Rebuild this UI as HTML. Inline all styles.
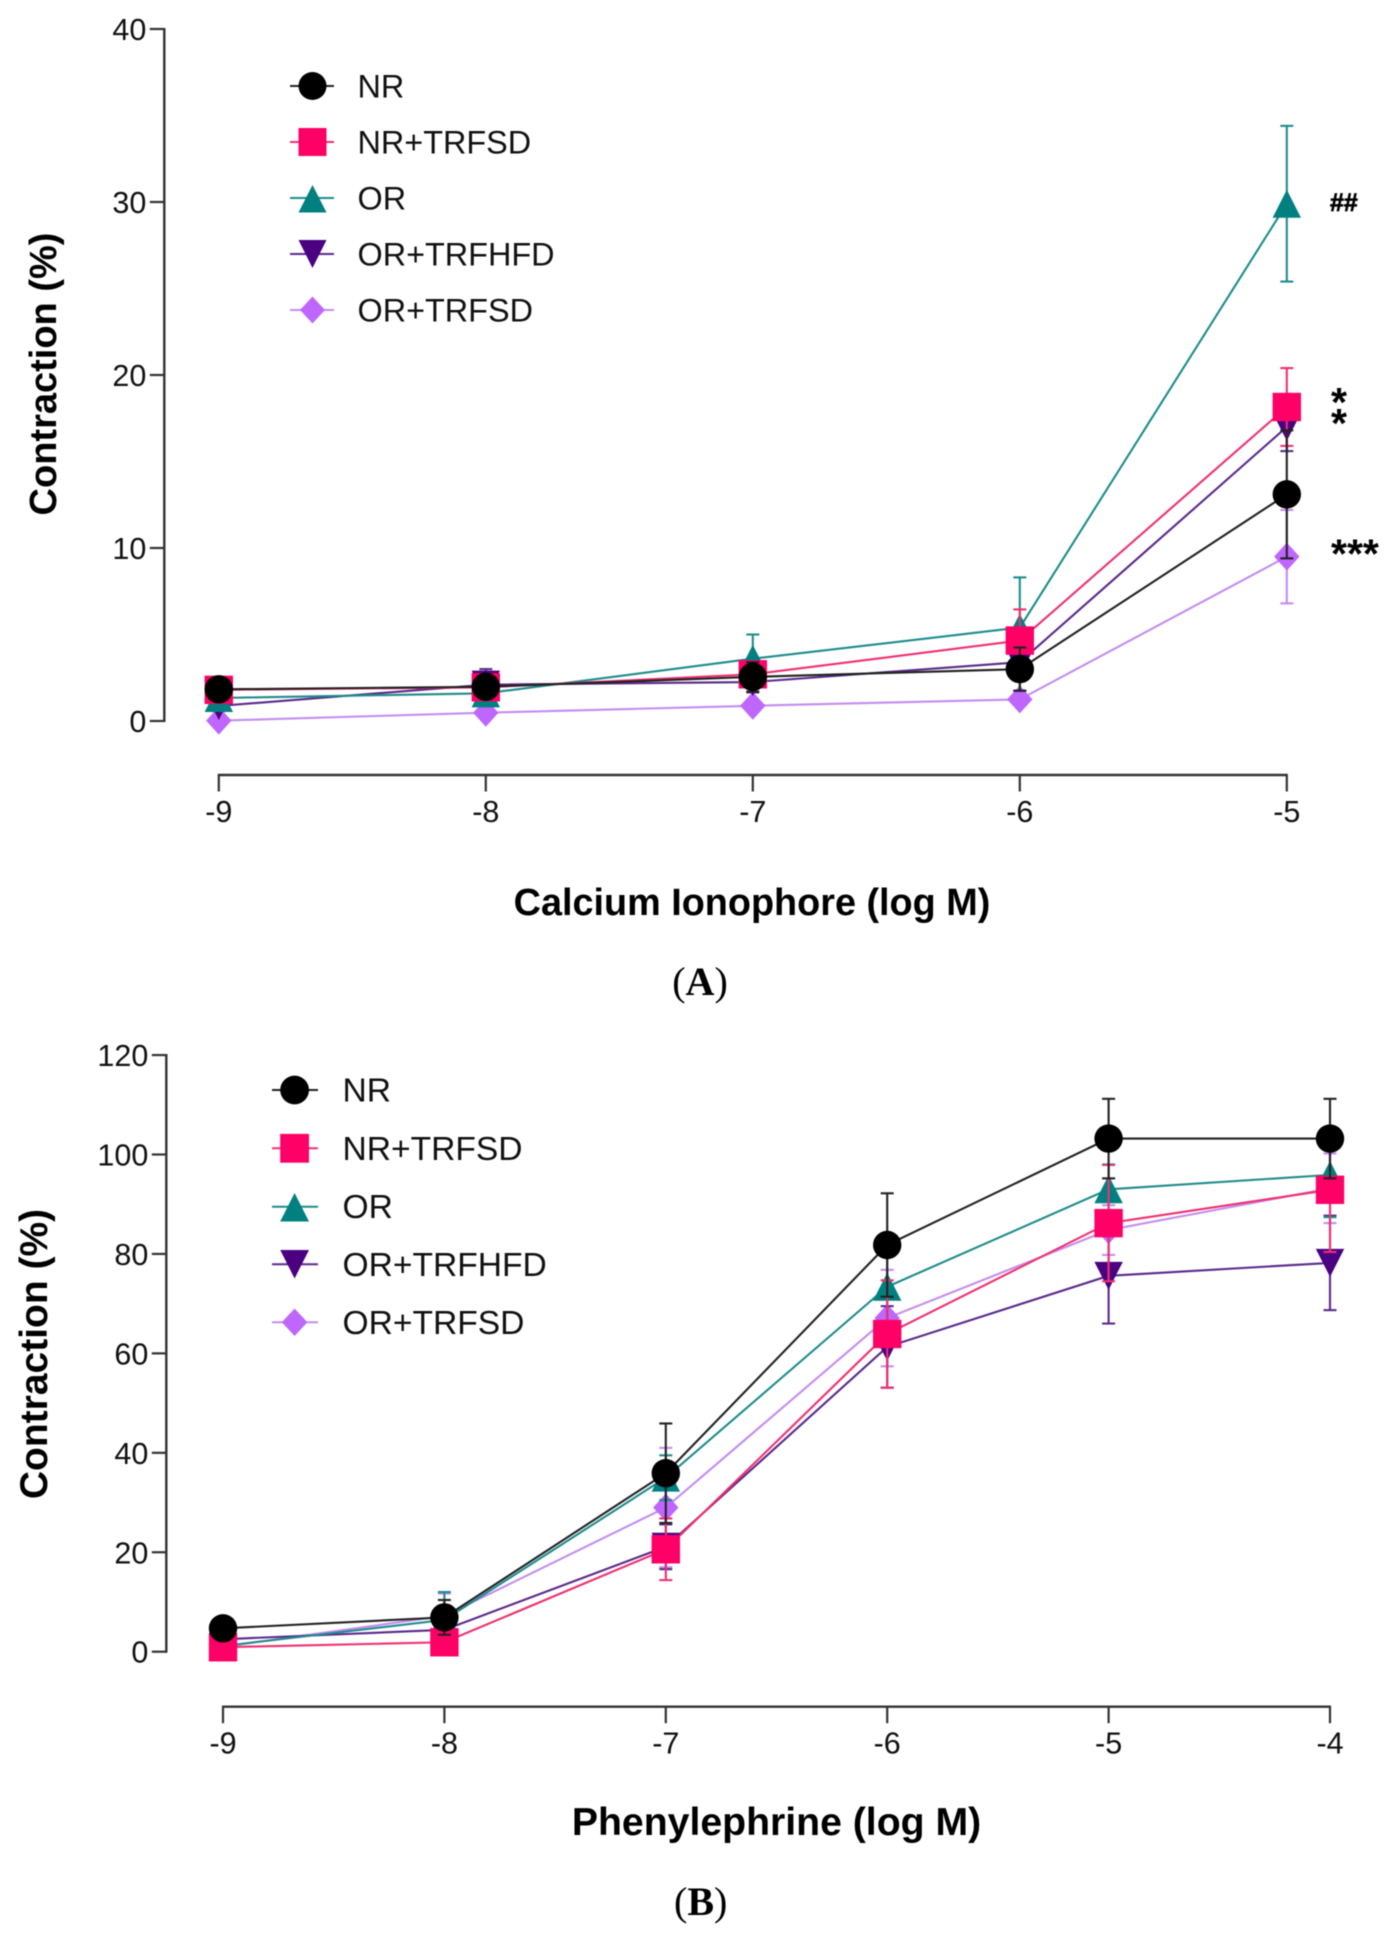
<!DOCTYPE html>
<html lang="en">
<head>
<meta charset="utf-8">
<title>Contraction dose-response curves</title>
<style>
  html, body { margin: 0; padding: 0; background: #fff; }
  svg { display: block; filter: blur(0.45px); }
  text { font-family: "Liberation Sans", sans-serif; fill: #111; }
  .tick { font-size: 30.5px; }
  .legend-a { font-size: 32.4px; }
  .legend-b { font-size: 33.6px; }
  .axis-title { font-size: 38px; font-weight: bold; fill: #000; }
  .caption { font-family: "Liberation Serif", serif; font-size: 40px; fill: #000; }
  .stat { font-weight: bold; fill: #000; }
</style>
</head>
<body>
<svg id="figure" xmlns="http://www.w3.org/2000/svg" width="1390" height="1933" viewBox="0 0 1390 1933">
  <rect x="0" y="0" width="1390" height="1933" fill="#ffffff"/>

  <g id="panel-a">
    <text class="axis-title" text-anchor="middle" transform="translate(56 374) rotate(-90)">Contraction (%)</text>
    <text class="axis-title" text-anchor="middle" x="752" y="915" style="font-size:37.8px">Calcium Ionophore (log M)</text>

    <g>
      <g>
        <line x1="290" x2="334" y1="86" y2="86" stroke="#222" stroke-width="2"/>
        <circle cx="312.5" cy="86" r="14" fill="#000"/>
        <text class="legend-a" x="357.5" y="97.5">NR</text>
      </g>
      <g>
        <line x1="290" x2="334" y1="142" y2="142" stroke="#f0306f" stroke-width="2"/>
        <rect x="298.5" y="128" width="28" height="28" fill="#ff0066"/>
        <text class="legend-a" x="357.5" y="153.5">NR+TRFSD</text>
      </g>
      <g>
        <line x1="290" x2="334" y1="198" y2="198" stroke="#1f8c8c" stroke-width="2"/>
        <polygon points="312.5,185 298.5,212.5 326.5,212.5" fill="#008080"/>
        <text class="legend-a" x="357.5" y="209.5">OR</text>
      </g>
      <g>
        <line x1="290" x2="334" y1="254" y2="254" stroke="#5b2a8c" stroke-width="2"/>
        <polygon points="312.5,268 298.5,240 326.5,240" fill="#4b0082"/>
        <text class="legend-a" x="357.5" y="265.5">OR+TRFHFD</text>
      </g>
      <g>
        <line x1="290" x2="334" y1="310" y2="310" stroke="#c48cf0" stroke-width="2"/>
        <polygon points="312.5,296.5 325,310 312.5,323.5 300,310" fill="#bf66ff"/>
        <text class="legend-a" x="357.5" y="321.5">OR+TRFSD</text>
      </g>
    </g>

    <text class="stat" x="1330" y="211" font-size="25" stroke="#000" stroke-width="0.7">##</text>
    <text class="stat" x="1331" y="416" font-size="41">*</text>
    <text class="stat" x="1331" y="437" font-size="41">*</text>
    <text class="stat" x="1331" y="567.5" font-size="41">***</text>

    <text class="caption" text-anchor="middle" x="700" y="995">(<tspan font-weight="bold">A</tspan>)</text>
  </g>

  <g id="panel-b">
    <text class="axis-title" text-anchor="middle" transform="translate(47 1354) rotate(-90)" style="font-size:39px">Contraction (%)</text>
    <text class="axis-title" text-anchor="middle" x="776.5" y="1835" style="font-size:39.2px">Phenylephrine (log M)</text>

    <g>
      <g>
        <line x1="272" x2="318" y1="1090" y2="1090" stroke="#222" stroke-width="2"/>
        <circle cx="294.6" cy="1090" r="14.4" fill="#000"/>
        <text class="legend-b" x="342.5" y="1101.5">NR</text>
      </g>
      <g>
        <line x1="272" x2="318" y1="1148.3" y2="1148.3" stroke="#f0306f" stroke-width="2"/>
        <rect x="280.2" y="1133.9" width="28.8" height="28.8" fill="#ff0066"/>
        <text class="legend-b" x="342.5" y="1159.8">NR+TRFSD</text>
      </g>
      <g>
        <line x1="272" x2="318" y1="1206.7" y2="1206.7" stroke="#1f8c8c" stroke-width="2"/>
        <polygon points="294.6,1193 280.2,1221.5 309,1221.5" fill="#008080"/>
        <text class="legend-b" x="342.5" y="1218.2">OR</text>
      </g>
      <g>
        <line x1="272" x2="318" y1="1264.3" y2="1264.3" stroke="#5b2a8c" stroke-width="2"/>
        <polygon points="294.6,1278.5 280.2,1250 309,1250" fill="#4b0082"/>
        <text class="legend-b" x="342.5" y="1275.8">OR+TRFHFD</text>
      </g>
      <g>
        <line x1="272" x2="318" y1="1322.3" y2="1322.3" stroke="#c48cf0" stroke-width="2"/>
        <polygon points="294.6,1308.5 307.4,1322.3 294.6,1336 281.8,1322.3" fill="#bf66ff"/>
        <text class="legend-b" x="342.5" y="1333.8">OR+TRFSD</text>
      </g>
    </g>

    <text class="caption" text-anchor="middle" x="700.7" y="1915">(<tspan font-weight="bold">B</tspan>)</text>
  </g>
</svg>

<script>
// Panel A: Calcium Ionophore
const dosesA = [-9, -8, -7, -6, -5];
const yTicksA = [0, 10, 20, 30, 40];
const nrA        = [1.83, 1.98, 2.55, 3.0, 13.1];
const nrErrA     = [0.6, 0.7, 0.85, 1.25, 3.7];
const nrTrfsdA   = [1.8, 1.95, 2.7, 4.65, 18.15];
const nrTrfsdErrA= [0.3, 0.4, 0.7, 1.8, 2.25];
const orA        = [1.33, 1.6, 3.6, 5.4, 29.9];
const orErrA     = [0.4, 0.5, 1.4, 2.9, 4.5];
const orHfdA     = [0.87, 2.1, 2.25, 3.4, 17.0];
const orHfdErrA  = [0.3, 0.9, 0.6, 1.65, 1.4];
const orSdA      = [0.02, 0.48, 0.88, 1.25, 9.5];
const orSdErrA   = [0.1, 0.1, 0.2, 0.3, 2.7];

// Panel B: Phenylephrine
const dosesB = [-9, -8, -7, -6, -5, -4];
const yTicksB = [0, 20, 40, 60, 80, 100, 120];
const nrB        = [4.7, 6.9, 35.9, 81.8, 103.2, 103.2];
const nrErrB     = [0.8, 3.5, 10, 10.4, 8, 8];
const nrTrfsdB   = [0.9, 1.9, 20.6, 63.9, 86.2, 92.9];
const nrTrfsdErrB= [0.4, 0.5, 6.2, 10.8, 11.7, 12.5];
const orB        = [1.15, 6.4, 35, 73.4, 93, 95.9];
const orErrB     = [0.4, 5.6, 4.5, 7, 5, 8.5];
const orHfdB     = [2.5, 4.4, 21.1, 61.3, 75.6, 78.2];
const orHfdErrB  = [0.5, 1, 4.5, 8.2, 9.6, 9.5];
const orSdB      = [1.0, 7.2, 29, 67.1, 84.8, 93.2];
const orSdErrB   = [0.4, 4.5, 12, 9.7, 5, 7];

const SVG_NS = 'http://www.w3.org/2000/svg';

function make(tag, attrs, parent) {
  const node = document.createElementNS(SVG_NS, tag);
  for (const key in attrs) node.setAttribute(key, attrs[key]);
  parent.appendChild(node);
  return node;
}

function drawMarker(shape, px, py, fill, parent) {
  if (shape === 'circle') {
    return make('circle', { cx: px, cy: py, r: 14.2, fill: fill }, parent);
  }
  if (shape === 'square') {
    return make('rect', { x: px - 14.2, y: py - 14.2, width: 28.4, height: 28.4, fill: fill }, parent);
  }
  let points;
  if (shape === 'up') {
    points = [[px, py - 14], [px - 14.2, py + 14], [px + 14.2, py + 14]];
  } else if (shape === 'down') {
    points = [[px, py + 14], [px - 14.2, py - 14], [px + 14.2, py - 14]];
  } else {
    points = [[px, py - 14], [px + 12.7, py], [px, py + 14], [px - 12.7, py]];
  }
  return make('polygon', { points: points.map(p => p.join(',')).join(' '), fill: fill }, parent);
}

function drawPanel(root, cfg) {
  const xScale = d => cfg.x0 + (d - cfg.doses[0]) * cfg.xStep;
  const yScale = v => cfg.y0 - v * cfg.yUnit;
  const axisInk = '#333';

  // y axis
  const yAxis = make('g', {}, root);
  
  
  const yTop = yScale(cfg.yTicks[cfg.yTicks.length - 1]);
  const yBottom = yScale(cfg.yTicks[0]);
  make('line', { x1: cfg.axisX, x2: cfg.axisX, y1: yTop - 1, y2: yBottom + 1, stroke: axisInk, 'stroke-width': 2.4 }, yAxis);
  cfg.yTicks.forEach(value => {
    const tickY = yScale(value);
    const mark = make('line', { x1: cfg.axisX - 14.5, x2: cfg.axisX, y1: tickY, y2: tickY, stroke: axisInk, 'stroke-width': 2.2 }, yAxis);
    
    
    const label = make('text', { class: 'tick', 'text-anchor': 'end', x: cfg.axisX - 18, y: tickY + 11 }, yAxis);
    
    
    label.textContent = String(value);
  });

  // x axis
  const xAxis = make('g', {}, root);
  
  
  const xFirst = xScale(cfg.doses[0]);
  const xLast = xScale(cfg.doses[cfg.doses.length - 1]);
  make('line', { x1: xFirst - 1, x2: xLast + 1, y1: cfg.axisY, y2: cfg.axisY, stroke: axisInk, 'stroke-width': 2.4 }, xAxis);
  cfg.doses.forEach(dose => {
    const tickX = xScale(dose);
    const mark = make('line', { x1: tickX, x2: tickX, y1: cfg.axisY, y2: cfg.axisY + 16.5, stroke: axisInk, 'stroke-width': 2.2 }, xAxis);
    
    
    const label = make('text', { class: 'tick', 'text-anchor': 'middle', x: tickX, y: cfg.axisY + 47 }, xAxis);
    
    
    label.textContent = String(dose);
  });

  // series, back to front
  cfg.series.forEach(s => {
    const group = make('g', {}, root);
    
    

    const linePoints = s.values.map((v, i) => xScale(cfg.doses[i]) + ',' + yScale(v)).join(' ');
    const path = make('polyline', { points: linePoints, fill: 'none', stroke: s.line, 'stroke-width': 2.1 }, group);
    
    

    s.values.forEach((v, i) => {
      const px = xScale(cfg.doses[i]);
      const top = yScale(v + s.errors[i]);
      const bottom = yScale(v - s.errors[i]);
      const bar = make('g', { stroke: s.line, 'stroke-width': 2.1 }, group);
      
      
      make('line', { x1: px, x2: px, y1: top, y2: bottom }, bar);
      make('line', { x1: px - 6.5, x2: px + 6.5, y1: top, y2: top }, bar);
      make('line', { x1: px - 6.5, x2: px + 6.5, y1: bottom, y2: bottom }, bar);
    });

    s.values.forEach((v, i) => {
      const marker = drawMarker(s.shape, xScale(cfg.doses[i]), yScale(v), s.fill, group);
      
      
    });
  });
}

drawPanel(document.getElementById('panel-a'), {
  id: 'panel-a', doses: dosesA, yTicks: yTicksA,
  x0: 218.8, xStep: 267, y0: 721, yUnit: 17.3, axisX: 164.3, axisY: 775,
  series: [
    { key: 'or-trfsd', values: orSdA, errors: orSdErrA, shape: 'diamond', fill: '#bf66ff', line: '#c48cf0' },
    { key: 'or-trfhfd', values: orHfdA, errors: orHfdErrA, shape: 'down', fill: '#4b0082', line: '#5b2a8c' },
    { key: 'or', values: orA, errors: orErrA, shape: 'up', fill: '#008080', line: '#1f8c8c' },
    { key: 'nr-trfsd', values: nrTrfsdA, errors: nrTrfsdErrA, shape: 'square', fill: '#ff0066', line: '#f0306f' },
    { key: 'nr', values: nrA, errors: nrErrA, shape: 'circle', fill: '#000000', line: '#222222' }
  ]
});

drawPanel(document.getElementById('panel-b'), {
  id: 'panel-b', doses: dosesB, yTicks: yTicksB,
  x0: 223, xStep: 221.4, y0: 1651.7, yUnit: 4.972, axisX: 166.3, axisY: 1706.7,
  series: [
    { key: 'or-trfsd', values: orSdB, errors: orSdErrB, shape: 'diamond', fill: '#bf66ff', line: '#c48cf0' },
    { key: 'or-trfhfd', values: orHfdB, errors: orHfdErrB, shape: 'down', fill: '#4b0082', line: '#5b2a8c' },
    { key: 'or', values: orB, errors: orErrB, shape: 'up', fill: '#008080', line: '#1f8c8c' },
    { key: 'nr-trfsd', values: nrTrfsdB, errors: nrTrfsdErrB, shape: 'square', fill: '#ff0066', line: '#f0306f' },
    { key: 'nr', values: nrB, errors: nrErrB, shape: 'circle', fill: '#000000', line: '#222222' }
  ]
});
</script>
</body>
</html>
